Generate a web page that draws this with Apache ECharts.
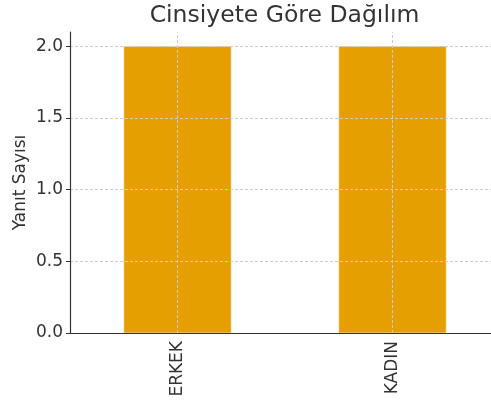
<!DOCTYPE html>
<html><head><meta charset="utf-8">
<script src="https://cdn.jsdelivr.net/npm/echarts@6/dist/echarts.min.js"></script>
<style>html,body{margin:0;padding:0;background:#fff}#c{width:491px;height:402px}</style>
</head><body><div id="c"></div>
<script>
const title = 'Cinsiyete Göre Dağılım';
const yName = 'Yanıt Sayısı';
const categories = ['ERKEK', 'KADIN'];
const values = [2, 2];
const yTicks = [0, 0.5, 1.0, 1.5, 2.0];
const yMax = 2.1;

const chart = echarts.init(document.getElementById('c'), null, {renderer: 'canvas'});
const font = 'DejaVu Sans';
const grid = {color: '#cccccc', width: 1, type: [3, 2]};
const markData = yTicks.filter(v => v > 0).map(v => ({yAxis: v}))
  .concat(categories.map(c => ({xAxis: c})));

chart.setOption({
  animation: false,
  textStyle: {fontFamily: font},
  title: {
    text: title, left: 279.5, top: -1, textAlign: 'center',
    textStyle: {fontFamily: font, fontSize: 23.5, fontWeight: 'normal', color: '#333'}
  },
  grid: {left: 70, width: 430, top: 32, height: 301, containLabel: false, outerBoundsMode: 'none'},
  xAxis: {
    type: 'category', data: categories, boundaryGap: true, z: 6,
    axisLine: {lineStyle: {color: '#333', width: 1.2}},
    axisTick: {alignWithLabel: true, length: 4, lineStyle: {color: '#333'}},
    axisLabel: {rotate: 90, margin: 8, fontSize: 17, color: '#333', fontFamily: font},
    splitLine: {show: false}
  },
  yAxis: {
    type: 'value', min: 0, max: yMax, interval: 0.5, z: 6,
    name: yName, nameLocation: 'middle', nameGap: 41, nameMoveOverlap: false,
    nameTextStyle: {fontSize: 17, color: '#333', fontFamily: font},
    axisLine: {show: true, lineStyle: {color: '#333', width: 1.2}},
    axisTick: {show: true, length: 4, customValues: yTicks, lineStyle: {color: '#333'}},
    axisLabel: {margin: 7, fontSize: 17, color: '#333', fontFamily: font,
      customValues: yTicks, formatter: v => v.toFixed(1)},
    splitLine: {show: false}
  },
  series: [{
    type: 'bar', data: values, barWidth: '50%',
    itemStyle: {color: '#E69F00', borderColor: '#f0c060', borderWidth: 0.6},
    markLine: {
      silent: true, symbol: 'none', label: {show: false}, z: 5,
      lineStyle: grid, data: markData
    }
  }]
});
</script></body></html>
